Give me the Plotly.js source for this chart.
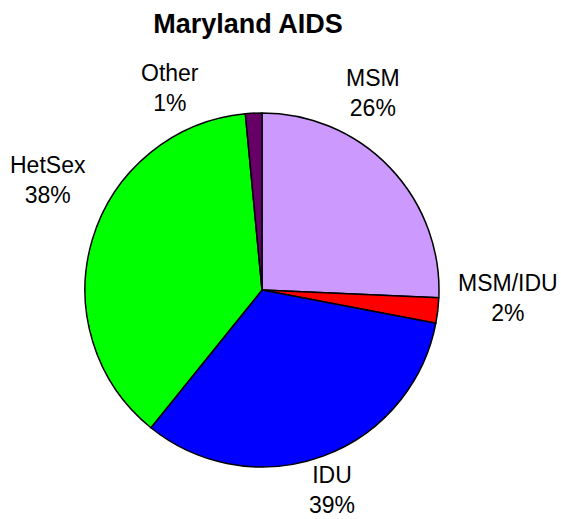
<!DOCTYPE html>
<html>
<head>
<meta charset="utf-8">
<script src="https://cdn.plot.ly/plotly-3.0.1.min.js"></script>
<style>body{margin:0;padding:0;background:#fff;}</style>
</head>
<body>
<div id="chart" style="width:561px;height:519px;"></div>
<script>
// slice sizes as drawn, and the percent labels as printed on the chart
var groups = ["MSM", "MSM/IDU", "IDU", "HetSex", "Other"];
var shares = [25.7, 2.3, 32.8, 37.7, 1.5];
var pctLabels = ["26%", "2%", "39%", "38%", "1%"];
var sliceColors = ["#CC99FF", "#FF0000", "#0000FF", "#00FF00", "#660066"];

// label anchor points in pixels (x, y of block centre)
var labelPos = [[373, 93], [508, 298], [332, 490], [48, 180], [170, 88]];

var W = 561, H = 519;
var annos = groups.map(function (g, i) {
    return {
        xref: "paper", yref: "paper",
        x: labelPos[i][0] / W, y: 1 - labelPos[i][1] / H,
        xanchor: "center", yanchor: "middle",
        borderpad: 0,
        text: g + "<br>" + pctLabels[i],
        showarrow: false,
        font: { family: "Liberation Sans, Arial, sans-serif", size: 23, color: "#000" }
    };
});

var pie = {
    type: "pie",
    labels: groups,
    values: shares,
    sort: false,
    direction: "clockwise",
    rotation: 0,
    textinfo: "none",
    hoverinfo: "label+percent",
    marker: { colors: sliceColors, line: { color: "#000", width: 1.5 } },
    domain: { x: [85 / W, 439 / W], y: [1 - 467 / H, 1 - 113 / H] }
};

var layout = {
    width: W, height: H,
    margin: { l: 0, r: 0, t: 0, b: 0 },
    showlegend: false,
    paper_bgcolor: "#fff",
    title: {
        text: "<b>Maryland AIDS</b>",
        x: 248 / W, xanchor: "center",
        y: 1 - 24 / H, yanchor: "middle",
        font: { family: "Liberation Sans, Arial, sans-serif", size: 27, color: "#000" }
    },
    annotations: annos
};

Plotly.newPlot("chart", [pie], layout, { displayModeBar: false });
</script>
</body>
</html>
